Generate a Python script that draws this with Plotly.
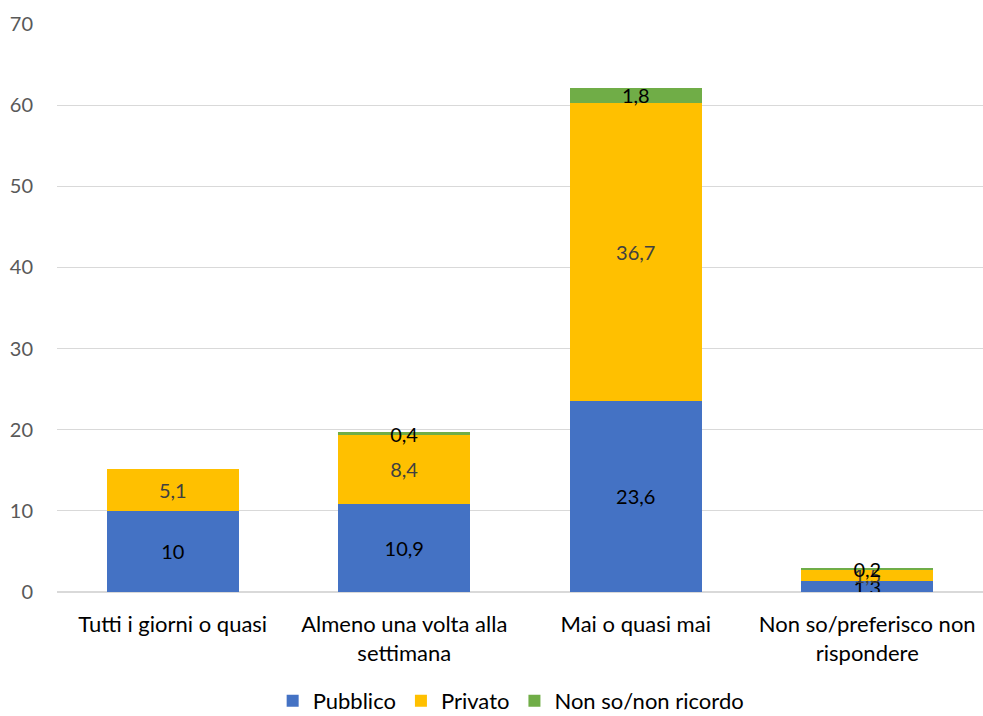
import plotly.graph_objects as go

categories = ["Tutti i giorni o quasi", "Almeno una volta alla<br>settimana",
              "Mai o quasi mai", "Non so/preferisco non<br>rispondere"]
pubblico = [10, 10.9, 23.6, 1.3]
privato = [5.1, 8.4, 36.7, 1.5]
non_so = [0, 0.4, 1.8, 0.2]
series_names = ["Pubblico", "Privato", "Non so/non ricordo"]
colors = ["#4472C4", "#FFC000", "#70AD47"]
label_colors = ["#000000", "#404040", "#000000"]
y_ticks = [0, 10, 20, 30, 40, 50, 60, 70]

FONT = "Lato"

def fmt(v):
    if v == 0:
        return ""
    s = ("%g" % v).replace(".", ",")
    return s

fig = go.Figure()
for name, vals, col, lc in zip(series_names, [pubblico, privato, non_so], colors, label_colors):
    fig.add_trace(go.Bar(
        name=name, x=categories, y=vals, marker_color=col,
        marker_line_width=0,
        text=[fmt(v) for v in vals], textposition="inside",
        insidetextanchor="middle",
        textfont=dict(family=FONT, size=20, color=lc),
        constraintext="none",
    ))

fig.update_layout(
    barmode="stack", bargap=0.43,
    width=983, height=716,
    margin=dict(l=57, r=0, t=24, b=124),
    paper_bgcolor="white", plot_bgcolor="white",
    font=dict(family=FONT, size=20, color="#000000"),
    uniformtext=dict(minsize=20, mode="show"),
    showlegend=True,
    legend=dict(orientation="h", xref="container", yref="container",
                x=0.52, xanchor="center", y=0.021, yanchor="middle",
                font=dict(family=FONT, size=22, color="#000000"),
                itemwidth=30, traceorder="normal"),
)
fig.update_yaxes(range=[0, 70], tickvals=y_ticks, showgrid=True,
                 gridcolor="#D9D9D9", gridwidth=1, zeroline=True,
                 zerolinecolor="#D9D9D9", showline=False,
                 tickfont=dict(family=FONT, size=20, color="#595959"),
                 ticklabelstandoff=23)
fig.update_xaxes(showline=False, tickfont=dict(family=FONT, size=22, color="#000000"),
                 ticklabelstandoff=17)

fig.write_html("out.html")
